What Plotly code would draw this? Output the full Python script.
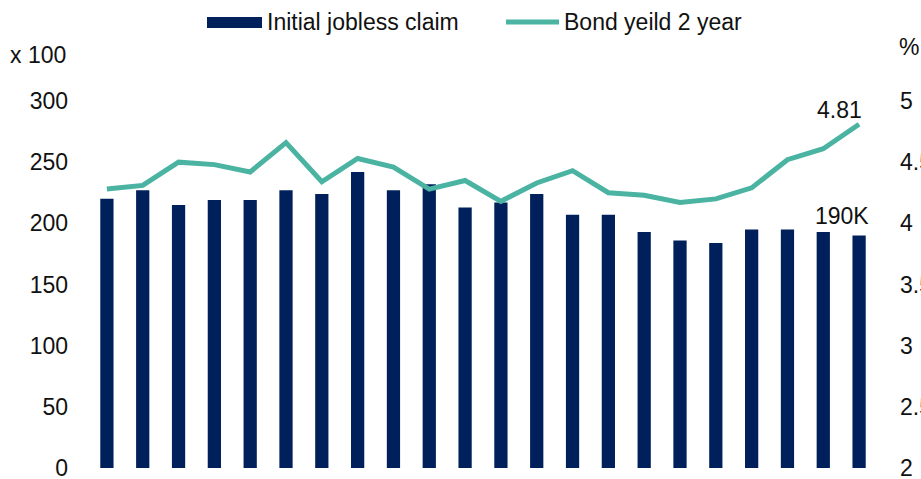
import plotly.graph_objects as go

periods = list(range(1, 23))
jobless_claims = [220, 227, 215, 219, 219, 227, 224, 242, 227, 232, 213, 217,
                  224, 207, 207, 193, 186, 184, 195, 195, 193, 190]
bond_yield_2y = [4.28, 4.31, 4.50, 4.48, 4.42, 4.66, 4.34, 4.53, 4.46, 4.28, 4.35,
                 4.18, 4.33, 4.43, 4.25, 4.23, 4.17, 4.20, 4.29, 4.52, 4.61, 4.81]
left_ticks = [0, 50, 100, 150, 200, 250, 300]
right_ticks = [2, 2.5, 3, 3.5, 4, 4.5, 5]
right_tick_text = ["2", "2.5", "3", "3.5", "4", "4.5", "5"]
series_names = ["Initial jobless claim", "Bond yeild 2 year"]

NAVY = "#00205b"
TEAL = "#4ab3a1"
FONT = "Liberation Sans, Arial, sans-serif"
TXT = "#111111"
FS = 23

W, H = 921, 479
ML, MR, MT, MB = 89, 44, 101, 11
PW, PH = W - ML - MR, H - MT - MB


def px_x(px):
    return (px - ML) / PW


def px_y(py):
    return (H - MB - py) / PH


fig = go.Figure()
fig.add_trace(go.Bar(
    x=periods, y=jobless_claims, name=series_names[0],
    marker=dict(color=NAVY, line=dict(width=0)), width=0.37, yaxis="y",
))
fig.add_trace(go.Scatter(
    x=periods, y=bond_yield_2y, name=series_names[1], mode="lines",
    line=dict(color=TEAL, width=5), yaxis="y2",
))

# data labels
fig.add_annotation(x=periods[-1], y=bond_yield_2y[-1], yref="y2",
                   text=f"{bond_yield_2y[-1]:.2f}", showarrow=False,
                   xshift=-20, yshift=14, yanchor="middle",
                   font=dict(size=FS, color=TXT, family=FONT))
fig.add_annotation(x=periods[-1], y=jobless_claims[-1], yref="y",
                   text=f"{jobless_claims[-1]}K", showarrow=False,
                   xshift=-17, yshift=20, yanchor="middle",
                   font=dict(size=FS, color=TXT, family=FONT))

# axis unit labels
fig.add_annotation(xref="paper", yref="paper", x=px_x(8), y=px_y(55), xanchor="left",
                   yanchor="middle", text="x 100", showarrow=False,
                   font=dict(size=FS, color=TXT, family=FONT))
fig.add_annotation(xref="paper", yref="paper", x=px_x(897), y=px_y(47), xanchor="left",
                   yanchor="middle", text="%", showarrow=False,
                   font=dict(size=FS, color=TXT, family=FONT))

# custom legend
fig.add_shape(type="rect", xref="paper", yref="paper",
              x0=px_x(207), x1=px_x(262), y0=px_y(28), y1=px_y(17),
              fillcolor=NAVY, line=dict(width=0))
fig.add_annotation(xref="paper", yref="paper", x=px_x(265), y=px_y(22), xanchor="left",
                   yanchor="middle", text=series_names[0], showarrow=False,
                   font=dict(size=FS, color=TXT, family=FONT))
fig.add_shape(type="line", xref="paper", yref="paper",
              x0=px_x(506), x1=px_x(559), y0=px_y(22), y1=px_y(22),
              line=dict(color=TEAL, width=5))
fig.add_annotation(xref="paper", yref="paper", x=px_x(562), y=px_y(22), xanchor="left",
                   yanchor="middle", text=series_names[1], showarrow=False,
                   font=dict(size=FS, color=TXT, family=FONT))

fig.update_layout(
    width=W, height=H,
    margin=dict(l=ML, r=MR, t=MT, b=MB, autoexpand=False),
    paper_bgcolor="white", plot_bgcolor="white",
    font=dict(family=FONT, size=FS, color=TXT),
    showlegend=False,
    hovermode=False,
    xaxis=dict(range=[0.5, 22.5], showticklabels=False, showgrid=False,
               zeroline=False, showline=False, ticks=""),
    yaxis=dict(range=[0, 300], tickvals=left_ticks, showgrid=False, zeroline=False,
               showline=False, ticks="", ticklabelstandoff=20, automargin=False,
               ticklabeloverflow="allow",
               tickfont=dict(size=FS, color=TXT, family=FONT)),
    yaxis2=dict(range=[2, 5], tickvals=right_ticks, ticktext=right_tick_text,
                overlaying="y", side="right", showgrid=False, zeroline=False,
                showline=False, ticks="", ticklabelstandoff=22, automargin=False,
                ticklabeloverflow="allow",
                tickfont=dict(size=FS, color=TXT, family=FONT)),
)

fig.write_html("out.html", config={"displayModeBar": False},
               post_script="document.body.style.margin='0';")
